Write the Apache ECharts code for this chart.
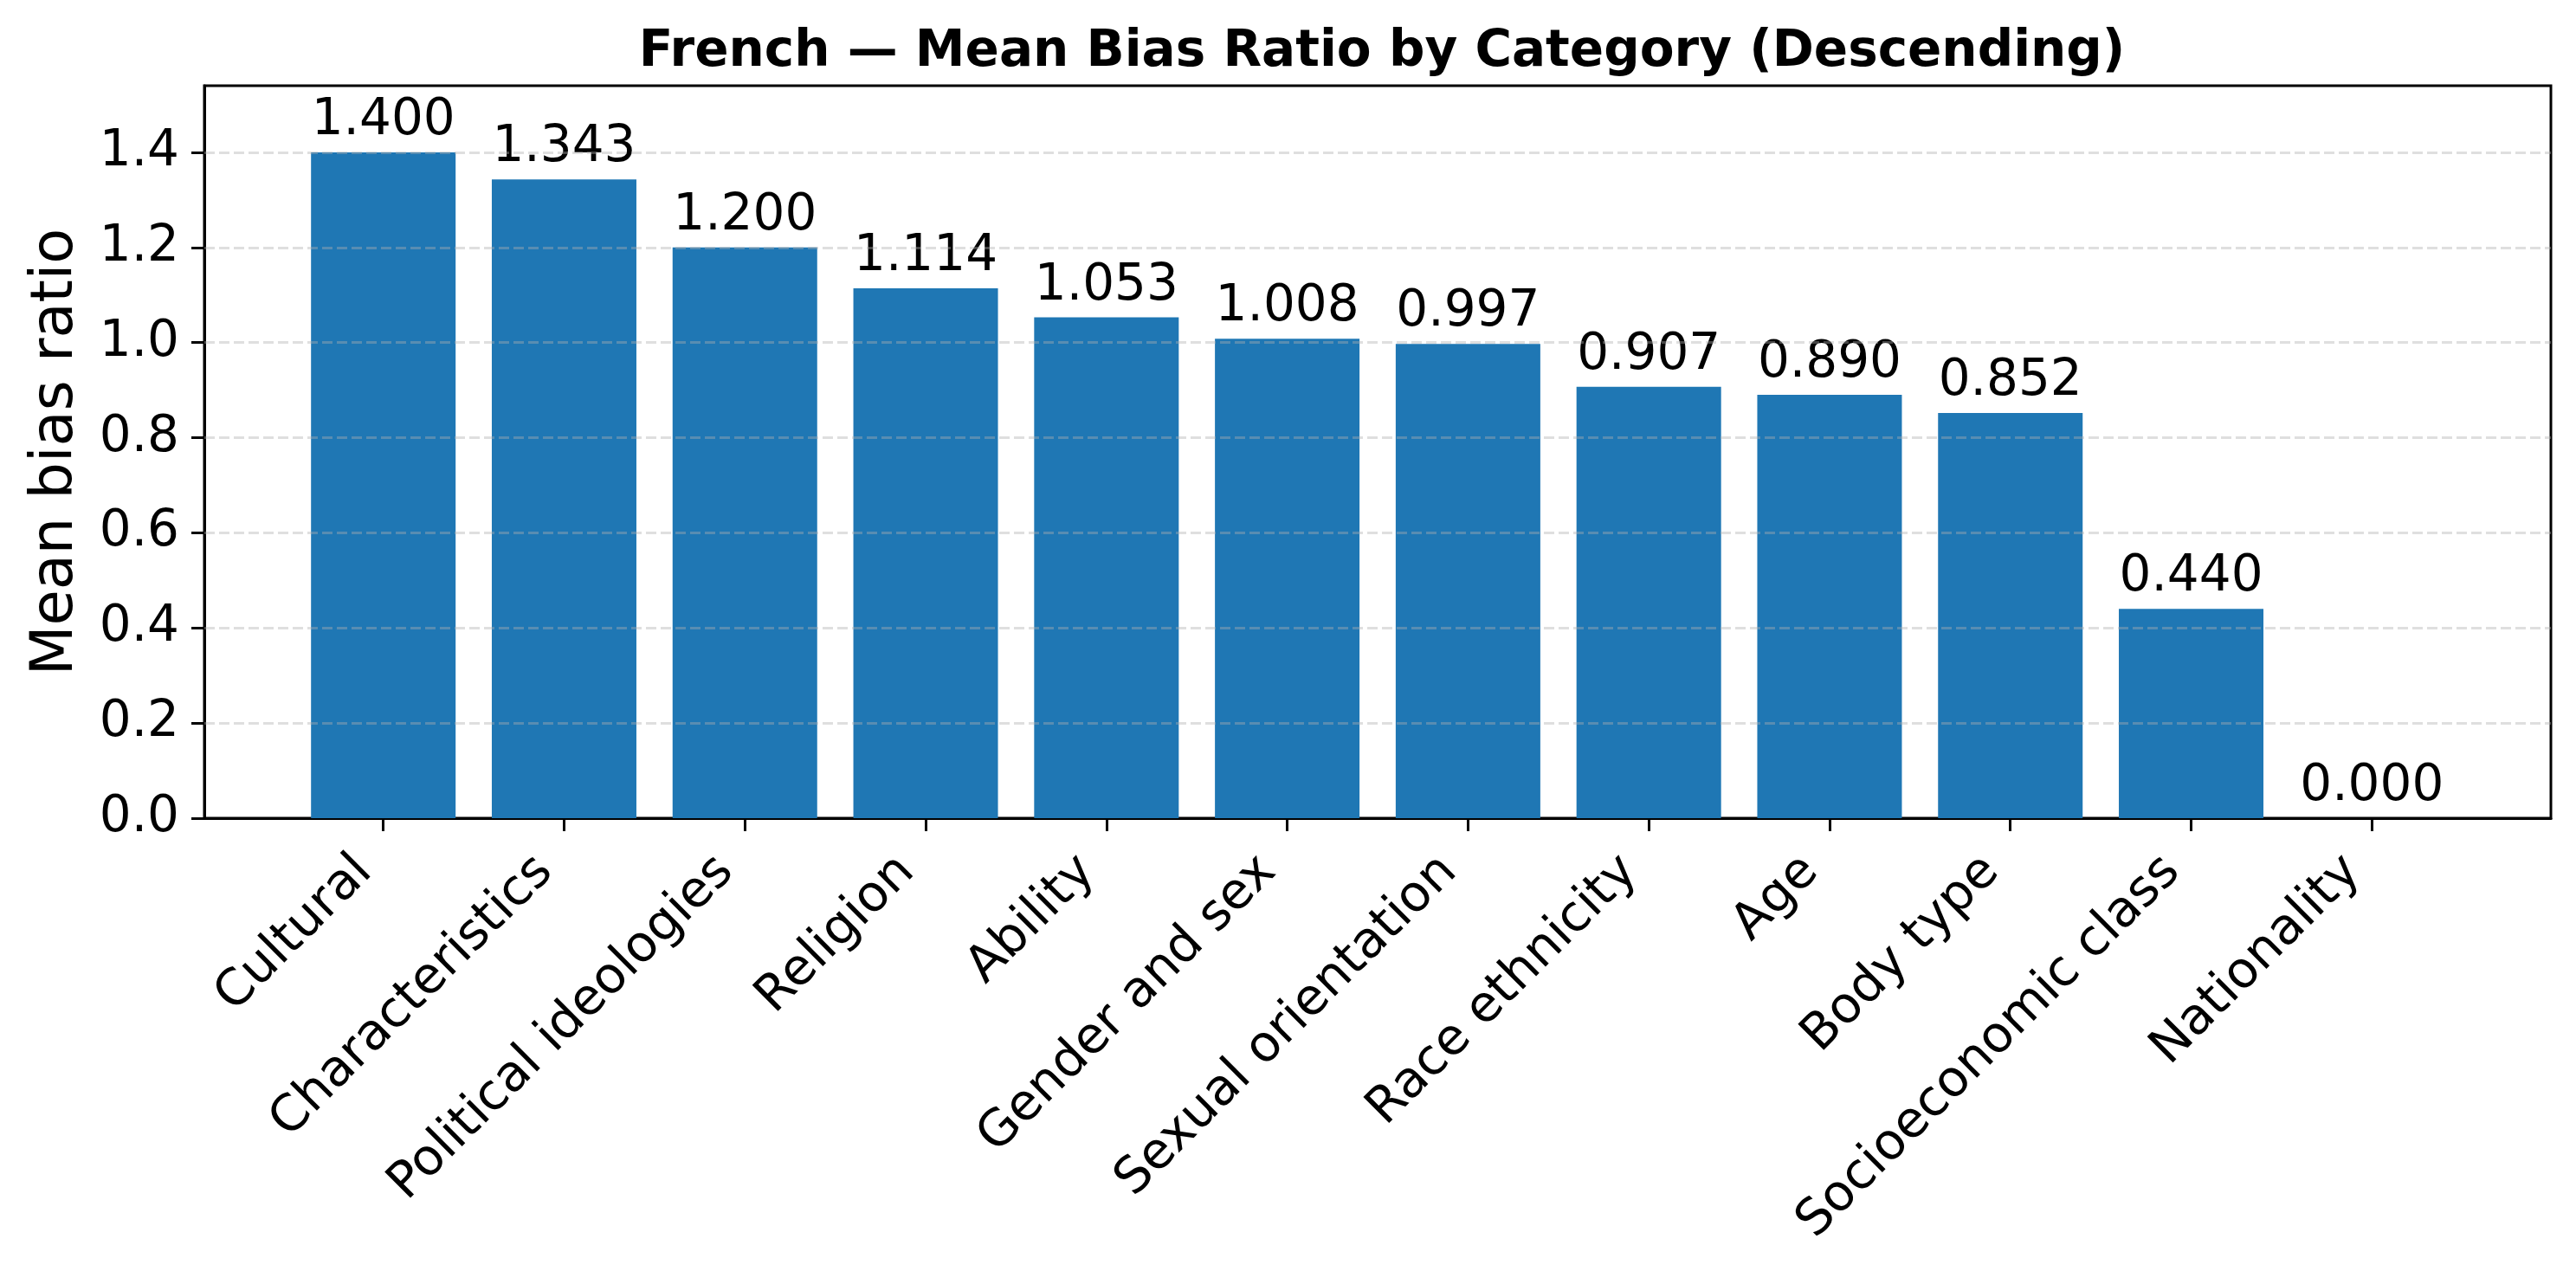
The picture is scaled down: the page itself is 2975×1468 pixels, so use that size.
<!DOCTYPE html>
<html>
<head>
<meta charset="utf-8">
<script src="https://cdn.jsdelivr.net/npm/echarts@6/dist/echarts.min.js"></script>
<style>html,body{margin:0;padding:0;background:#fff;}#chart{width:2975px;height:1468px;}</style>
</head>
<body>
<div id="chart"></div>
<script>
const categories = ["Cultural", "Characteristics", "Political ideologies", "Religion", "Ability", "Gender and sex", "Sexual orientation", "Race ethnicity", "Age", "Body type", "Socioeconomic class", "Nationality"];
const meanBiasRatio = [1.400, 1.343, 1.200, 1.114, 1.053, 1.008, 0.997, 0.907, 0.890, 0.852, 0.440, 0.000];
const yTicks = [0.0, 0.2, 0.4, 0.6, 0.8, 1.0, 1.2, 1.4];
const titleText = "French \u2014 Mean Bias Ratio by Category (Descending)";
const yName = "Mean bias ratio";

const FONT = "DejaVu Sans";
const idx = categories.map((c, i) => i);
const chart = echarts.init(document.getElementById('chart'), null, {renderer: 'canvas'});
chart.setOption({
  animation: false,
  backgroundColor: '#fff',
  title: {
    text: titleText,
    left: 1591, top: 27, textAlign: 'center',
    textStyle: {fontFamily: FONT, fontWeight: 'bold', fontSize: 58, color: '#000'}
  },
  grid: {left: 236, top: 99, width: 2710, height: 846, show: true, borderColor: '#000', borderWidth: 3, backgroundColor: 'transparent'},
  xAxis: {
    type: 'value', min: -0.99, max: 11.99,
    splitLine: {show: false},
    axisLine: {show: true, onZero: false, lineStyle: {color: '#000', width: 3}},
    axisTick: {show: true, customValues: idx, length: 15, lineStyle: {color: '#000', width: 3}},
    axisLabel: {
      customValues: idx, rotate: 45, margin: 31, padding: [0, 31, 0, 0],
      formatter: v => categories[Math.round(v)],
      fontFamily: FONT, fontSize: 58, color: '#000'
    }
  },
  yAxis: {
    type: 'value', min: 0, max: 1.54,
    name: yName, nameLocation: 'middle', nameGap: 137,
    nameTextStyle: {fontFamily: FONT, fontSize: 67, color: '#000'},
    splitLine: {show: false},
    axisLine: {show: true, onZero: false, lineStyle: {color: '#000', width: 3}},
    axisTick: {show: true, customValues: yTicks, length: 15, lineStyle: {color: '#000', width: 3}},
    axisLabel: {customValues: yTicks, margin: 29, formatter: v => v.toFixed(1), fontFamily: FONT, fontSize: 58, color: '#000'}
  },
  series: [{
    type: 'bar',
    data: meanBiasRatio.map((v, i) => [i, v]),
    barWidth: 167,
    itemStyle: {color: '#1f77b4'},
    label: {show: true, position: 'top', distance: 7, formatter: p => p.value[1].toFixed(3), fontFamily: FONT, fontSize: 58, color: '#000'},
    markLine: {
      silent: true, symbol: ['none', 'none'], z: 5,
      label: {show: false},
      lineStyle: {type: [12, 5], color: 'rgba(176,176,176,0.4)', width: 3},
      data: yTicks.filter(v => v > 0).map(v => ({yAxis: v}))
    }
  }]
});
</script>
</body>
</html>
